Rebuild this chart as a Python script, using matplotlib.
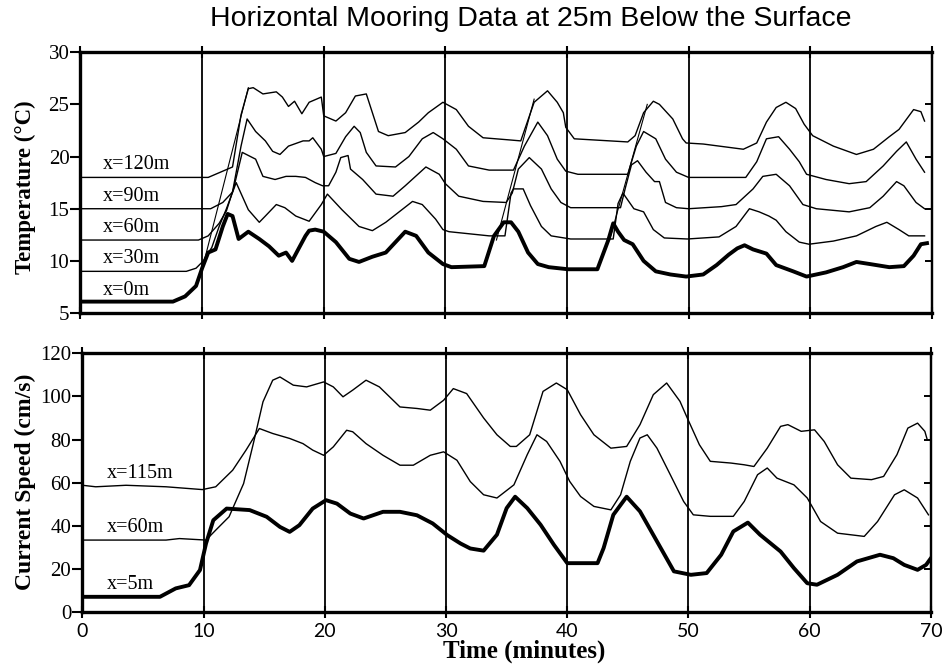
import numpy as np
import matplotlib.pyplot as plt

# ---------------- data ----------------
# temperature, x = 0 m (thick)
t_x0 = [0, 7.6, 8.6, 9.5, 10.0, 10.5, 11.1, 11.7, 12.1, 12.5, 13.0, 13.8, 14.7, 15.5, 16.3, 16.9,
        17.4, 17.9, 18.5, 18.8, 19.3, 20.0, 21.0, 22.1, 22.9, 24.0, 25.1, 25.9, 26.7, 27.6, 28.6,
        29.8, 30.5, 33.2, 34.0, 34.8, 35.4, 36.0, 36.8, 37.6, 38.5, 40.1, 42.5, 43.4, 43.8, 44.2,
        44.7, 45.4, 46.3, 47.3, 48.5, 49.8, 51.2, 52.3, 53.3, 54.0, 54.6, 55.3, 56.4, 57.2, 58.6,
        59.7, 61.3, 62.7, 63.8, 64.9, 66.5, 67.7, 68.5, 69.1, 69.6]
T_x0 = [6.1, 6.1, 6.6, 7.6, 9.3, 10.8, 11.1, 13.3, 14.5, 14.3, 12.1, 12.8, 12.1, 11.4, 10.5, 10.8,
        10.0, 11.1, 12.4, 12.9, 13.0, 12.8, 11.8, 10.2, 9.9, 10.4, 10.8, 11.8, 12.8, 12.4, 10.8,
        9.7, 9.4, 9.5, 12.4, 13.7, 13.7, 12.8, 10.8, 9.7, 9.4, 9.2, 9.2, 12.0, 13.6, 12.8,
        12.0, 11.6, 10.0, 9.0, 8.7, 8.5, 8.7, 9.6, 10.6, 11.2, 11.5, 11.1, 10.7, 9.6, 9.0,
        8.5, 8.9, 9.4, 9.9, 9.7, 9.4, 9.5, 10.5, 11.6, 11.7]

t_x30 = [0, 8.7, 9.5, 10.1, 10.8, 11.4, 12.0, 12.8, 13.3, 13.8, 14.7, 15.2, 16.1, 16.8, 17.7, 18.8,
         19.8, 20.3, 20.7, 21.5, 22.9, 24.0, 25.1, 26.2, 27.3, 28.1, 29.2, 29.8, 30.3, 33.6, 34.9,
         35.4, 35.6, 36.4, 37.0, 37.9, 38.7, 40.3, 43.8, 44.2, 44.6, 45.5, 46.3, 47.1, 48.0, 49.9,
         52.5, 53.9, 55.0, 55.8, 56.6, 57.2, 58.0, 59.1, 59.9, 61.9, 63.8, 65.4, 66.3, 67.3, 68.1, 69.4]
T_x30 = [9.0, 9.0, 9.3, 10.0, 11.3, 13.3, 15.0, 17.5, 16.2, 14.9, 13.7, 14.3, 15.4, 15.1, 14.3, 13.8,
         15.4, 16.4, 15.9, 14.9, 13.3, 12.9, 13.7, 14.7, 15.7, 15.4, 14.0, 13.0, 12.8, 12.4, 12.4,
         16.5, 16.9, 16.9, 15.3, 13.3, 12.4, 12.1, 12.1, 15.5, 16.5, 15.0, 14.7, 13.0, 12.2, 12.1,
         12.3, 13.3, 15.0, 14.7, 14.3, 13.9, 12.8, 11.8, 11.6, 11.9, 12.4, 13.3, 13.7, 13.0, 12.4, 12.4]

t_x60 = [0, 9.7, 10.5, 11.4, 12.0, 12.6, 13.3, 14.4, 15.0, 16.0, 16.9, 17.7, 18.5, 19.3, 19.9, 20.4,
         21.0, 21.4, 22.0, 22.2, 23.2, 24.3, 25.7, 26.7, 28.4, 29.5, 30.0, 31.1, 33.1, 35.0, 35.5,
         36.0, 36.9, 37.9, 38.7, 39.5, 40.3, 44.4, 44.8, 45.3, 45.8, 46.5, 47.2, 47.6, 48.1, 49.0,
         50.0, 52.7, 53.9, 55.3, 56.1, 57.2, 58.3, 59.4, 60.5, 63.2, 64.9, 66.0, 67.1, 67.7, 68.7, 69.4]
T_x60 = [12.0, 12.0, 12.4, 13.6, 14.8, 17.0, 20.4, 19.75, 18.1, 17.8, 18.1, 18.1, 18.0, 17.5, 17.2, 17.2,
         18.5, 19.9, 20.1, 18.8, 17.8, 16.4, 16.2, 17.2, 19.0, 18.3, 17.4, 16.2, 15.7, 15.6, 16.5,
         18.8, 19.9, 18.8, 16.9, 15.6, 15.1, 15.1, 17.0, 19.2, 19.6, 18.5, 17.6, 17.6, 15.6, 15.1,
         15.0, 15.2, 15.4, 16.9, 18.1, 18.3, 17.2, 15.4, 15.0, 14.7, 15.1, 16.2, 17.6, 17.2, 15.6, 15.0]

t_x90 = [0, 10.7, 11.7, 12.5, 13.2, 13.7, 14.4, 15.2, 15.8, 16.4, 17.1, 18.3, 18.8, 19.1, 19.8, 20.0,
         21.0, 21.8, 22.5, 23.0, 23.5, 24.3, 25.9, 27.0, 28.1, 29.0, 29.8, 30.9, 31.9, 33.6, 35.6,
         36.5, 37.6, 38.4, 39.2, 39.9, 40.9, 45.0, 45.7, 46.3, 47.3, 48.1, 49.0, 50.0, 54.7, 55.6,
         56.4, 57.4, 58.3, 59.1, 59.7, 61.3, 63.2, 64.6, 66.0, 67.1, 67.9, 68.7, 69.4]
T_x90 = [15.0, 15.0, 15.6, 16.6, 21.0, 23.6, 22.4, 21.5, 20.5, 20.2, 21.0, 21.5, 21.5, 21.8, 20.7, 20.0,
         20.3, 21.9, 22.9, 22.3, 20.4, 19.1, 19.0, 20.0, 21.7, 22.3, 21.7, 20.7, 19.1, 18.7, 18.7,
         21.0, 23.3, 22.0, 19.75, 18.6, 18.3, 18.3, 21.0, 22.4, 21.7, 19.75, 18.5, 18.0, 18.0, 19.5,
         21.7, 21.9, 20.7, 19.5, 18.3, 17.8, 17.4, 17.6, 19.1, 20.5, 21.4, 19.75, 18.5]

t_x120 = [0, 10.5, 11.5, 12.5, 13.2, 13.8, 14.2, 15.0, 16.1, 16.6, 17.1, 17.6, 18.2, 18.8, 19.6, 19.8,
          20.0, 21.0, 21.8, 22.6, 23.5, 24.0, 24.5, 25.3, 26.7, 27.8, 28.6, 29.8, 30.9, 31.9, 33.1,
          35.2, 36.2, 37.3, 38.4, 39.2, 39.7, 39.9, 40.6, 45.0, 45.6, 46.3, 47.1, 47.6, 48.7, 49.5,
          49.8, 51.2, 54.5, 55.6, 56.4, 57.2, 58.0, 58.8, 59.5, 60.2, 61.9, 63.8, 65.2, 66.5, 67.3,
          68.5, 69.1, 69.4]
T_x120 = [18.0, 18.0, 18.5, 19.0, 24.0, 26.5, 26.6, 26.0, 26.2, 25.7, 24.8, 25.3, 24.1, 25.2, 25.6, 25.7,
          23.9, 23.4, 24.2, 25.8, 26.0, 24.2, 22.4, 22.0, 22.3, 23.3, 24.2, 25.2, 24.5, 22.9, 21.8,
          21.6, 21.5, 25.2, 26.3, 25.2, 24.2, 22.8, 21.7, 21.4, 22.0, 24.2, 25.3, 25.0, 23.6, 21.7,
          21.3, 21.2, 20.7, 21.3, 23.3, 24.7, 25.2, 24.6, 23.1, 22.0, 21.0, 20.2, 20.7, 21.9, 22.6,
          24.5, 24.3, 23.4]

# thin straight lines linking the warm fronts: (t0, T0, t1, T1)
fronts = [(10.0, 9.2, 13.8, 26.6), (34.2, 12.0, 37.3, 25.5), (43.5, 12.0, 46.6, 25.0)]

temp_labels = ["x=0m", "x=30m", "x=60m", "x=90m", "x=120m"]
temp_base = [6, 9, 12, 15, 18]

# current speed
t_s5 = [0, 6.4, 7.7, 8.8, 9.7, 10.2, 10.8, 11.9, 13.8, 15.2, 16.3, 17.1, 17.9, 19.0, 20.1, 21.0,
        22.1, 23.2, 24.8, 26.2, 27.6, 28.9, 30.1, 31.2, 32.0, 33.1, 34.2, 35.0, 35.7, 36.7, 37.8,
        38.9, 40.0, 41.4, 42.5, 43.0, 43.8, 44.9, 46.0, 47.4, 48.8, 50.2, 51.5, 52.7, 53.7, 54.9,
        55.9, 57.6, 58.7, 59.8, 60.6, 62.3, 63.9, 65.8, 66.9, 67.8, 68.9, 69.6, 70.0]
V_s5 = [7.1, 7.1, 11.0, 12.5, 19.5, 31.8, 42.6, 48.0, 47.3, 44.2, 39.5, 37.2, 40.3, 48.0, 51.9, 50.3,
        45.7, 43.4, 46.5, 46.5, 44.9, 41.1, 35.7, 31.8, 29.5, 28.5, 35.9, 48.2, 53.5, 48.2, 40.5,
        31.2, 22.7, 22.7, 22.7, 29.7, 45.1, 53.5, 46.7, 32.8, 18.9, 17.3, 18.1, 26.6, 37.4, 41.5,
        35.9, 28.1, 20.4, 13.4, 12.7, 17.3, 23.5, 26.6, 25.0, 21.9, 19.6, 21.9, 25.0]

t_s60 = [0, 6.9, 8.0, 10.2, 11.0, 12.1, 13.3, 14.1, 14.9, 15.7, 16.3, 17.4, 18.5, 19.9, 20.7, 21.5,
         22.3, 23.4, 24.5, 26.2, 27.6, 28.7, 29.8, 30.6, 31.7, 33.1, 34.2, 35.3, 35.8, 36.9, 38.0,
         39.1, 40.0, 41.1, 42.2, 43.6, 44.9, 46.0, 47.1, 48.2, 49.3, 49.9, 50.9, 51.8, 53.5, 54.6,
         55.4, 56.5, 57.6, 58.2, 59.3, 60.4, 61.2, 62.3, 63.4, 65.1, 66.1, 67.2, 68.1, 68.9, 69.5, 69.7]
V_s60 = [33.4, 33.4, 34.1, 33.4, 38.0, 44.2, 59.6, 78.1, 97.5, 107.5, 109.0, 105.2, 104.4, 106.7, 104.4, 99.8,
         102.9, 107.5, 104.4, 95.1, 94.4, 93.6, 98.2, 103.6, 101.3, 90.0, 82.2, 76.8, 76.8, 82.2, 102.3,
         106.2, 103.1, 91.5, 82.2, 76.0, 76.8, 86.9, 100.8, 106.2, 97.7, 90.0, 77.6, 69.9, 69.1, 68.3,
         67.5, 76.0, 86.1, 86.9, 83.8, 84.5, 79.1, 68.3, 62.1, 61.4, 62.9, 73.0, 85.3, 87.6, 83.8, 79.9]

t_s115 = [0, 1.1, 3.6, 6.9, 9.9, 11.0, 12.4, 13.5, 14.6, 15.7, 17.1, 18.2, 19.0, 19.9, 20.7, 21.8,
          22.3, 23.4, 24.8, 26.2, 27.3, 28.7, 29.8, 30.9, 32.0, 33.1, 34.2, 35.6, 36.7, 37.5, 38.3,
          39.4, 40.2, 41.1, 42.2, 43.6, 44.4, 45.2, 46.0, 46.6, 47.4, 48.5, 49.6, 50.4, 51.8, 53.7,
          54.6, 55.7, 56.5, 57.3, 58.7, 59.8, 60.9, 62.3, 64.5, 65.6, 67.0, 67.8, 68.9, 69.8]
V_s115 = [58.8, 58.1, 58.8, 58.1, 56.8, 58.1, 65.8, 75.1, 85.1, 82.8, 80.5, 78.1, 75.1, 72.7, 76.6, 84.3,
          83.6, 78.1, 72.7, 68.1, 68.1, 72.7, 74.3, 70.4, 60.5, 54.4, 52.9, 59.0, 73.0, 82.2, 79.1,
          69.9, 60.6, 53.6, 49.0, 47.4, 54.4, 69.9, 80.7, 82.2, 76.0, 63.7, 51.3, 45.1, 44.4, 44.4,
          51.3, 63.7, 66.8, 62.1, 59.0, 52.9, 42.0, 36.6, 35.1, 42.0, 54.4, 56.7, 52.9, 45.1]

speed_labels = ["x=5m", "x=60m", "x=115m"]
speed_base = [7, 33.4, 58.5]

x_ticks = [0, 10, 20, 30, 40, 50, 60, 70]

# ---------------- figure ----------------
fig = plt.figure(figsize=(9.47, 6.69), dpi=100)
ax1 = fig.add_axes([0.085, 0.532, 0.899, 0.390])
ax2 = fig.add_axes([0.087, 0.085, 0.896, 0.387])

serif = "Liberation Serif"
thin = 1.0
thick = 2.8


def frame(ax, ylim, yticks, inner):
    ax.set_xlim(0, 70)
    ax.set_ylim(*ylim)
    ax.set_xticks(x_ticks)
    ax.set_yticks(yticks)
    for v in x_ticks[1:-1]:
        ax.axvline(v, color="black", lw=1.3, zorder=1)
    ax.tick_params(axis="x", direction="inout", length=9, width=1.5, top=True)
    ax.tick_params(axis="y", direction="out", length=7, width=1.5, labelsize=15, pad=1)
    for lab in ax.get_yticklabels():
        lab.set_fontfamily(serif)
    for s in ["top", "bottom", "left"]:
        ax.spines[s].set_linewidth(2.4)
    ax.spines["right"].set_linewidth(1.6)
    sec = ax.secondary_yaxis("right")
    sec.set_yticks(inner)
    sec.set_yticklabels([])
    sec.tick_params(direction="in", length=5, width=1.4)
    sec.spines["right"].set_linewidth(1.6)


# top panel
frame(ax1, (5, 30), [5, 10, 15, 20, 25, 30], [10, 15, 20, 25])
ax1.set_xticklabels([])
ax1.plot(t_x0, T_x0, color="black", lw=thick, zorder=3)
for tt, TT in [(t_x30, T_x30), (t_x60, T_x60), (t_x90, T_x90), (t_x120, T_x120)]:
    ax1.plot(tt, TT, color="black", lw=thin, zorder=3)
for f in fronts:
    ax1.plot([f[0], f[2]], [f[1], f[3]], color="black", lw=0.8, zorder=3)
for lab, b in zip(temp_labels, temp_base):
    ax1.text(1.8, b + 0.3, lab, family=serif, fontsize=14.5, ha="left", va="bottom")

# bottom panel
frame(ax2, (0, 120), [0, 20, 40, 60, 80, 100, 120], [20, 40, 60, 80, 100])
ax2.plot(t_s5, V_s5, color="black", lw=thick, zorder=3)
ax2.plot(t_s60, V_s60, color="black", lw=thin, zorder=3)
ax2.plot(t_s115, V_s115, color="black", lw=thin, zorder=3)
for lab, b in zip(speed_labels, speed_base):
    ax2.text(2.0, b + 1.2, lab, family=serif, fontsize=14.5, ha="left", va="bottom")
ax2.set_xticklabels([str(v) for v in x_ticks], fontsize=14, family="Lato")

# texts
fig.text(0.56, 0.972, "Horizontal Mooring Data at 25m Below the Surface",
         ha="center", va="center", fontsize=20.5, family="Liberation Sans")
fig.text(0.027, 0.72, "Temperature (°C)", rotation=90, ha="center", va="center",
         fontsize=16.5, fontweight="bold", family=serif)
fig.text(0.027, 0.28, "Current Speed (cm/s)", rotation=90, ha="center", va="center",
         fontsize=17, fontweight="bold", family=serif)
fig.text(0.553, 0.026, "Time (minutes)", ha="center", va="center",
         fontsize=18, fontweight="bold", family=serif)

plt.savefig("out.png", dpi=100)
